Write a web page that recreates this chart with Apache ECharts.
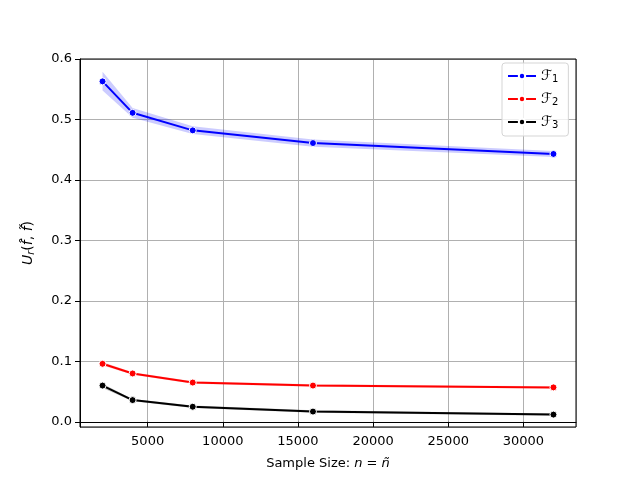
<!DOCTYPE html>
<html>
<head>
    <meta charset="utf-8">
    <title>Uniformity vs sample size</title>
    <script src="https://cdn.jsdelivr.net/npm/echarts@6/dist/echarts.min.js"></script>
</head>
<body style="margin:0">
    <div id="main" style="width:640px;height:480px;"></div>
    <script type="text/javascript">
        // sample sizes
        var sizes = [2000, 4000, 8000, 16000, 32000];

        // mean values per family
        var f1 = [0.563, 0.511, 0.482, 0.461, 0.443];
        var f2 = [0.096, 0.080, 0.065, 0.060, 0.057];
        var f3 = [0.060, 0.036, 0.025, 0.017, 0.012];

        // confidence band (lower / upper)
        var f1Lo = [0.548, 0.503, 0.476, 0.455, 0.438];
        var f1Hi = [0.579, 0.519, 0.489, 0.467, 0.448];
        var f2Lo = [0.093, 0.078, 0.063, 0.058, 0.055];
        var f2Hi = [0.099, 0.082, 0.067, 0.062, 0.059];
        var f3Lo = [0.056, 0.034, 0.023, 0.015, 0.010];
        var f3Hi = [0.063, 0.038, 0.027, 0.019, 0.014];

        var names = ['F1', 'F2', 'F3'];
        var colors = ['#0000ff', '#ff0000', '#000000'];
        var bandColors = ['rgba(0,0,255,0.2)', 'rgba(255,0,0,0.2)', 'rgba(0,0,0,0.2)'];

        var myChart = echarts.init(document.getElementById('main'));

        function zip(xs, ys) {
            return xs.map(function (x, i) { return [x, ys[i]]; });
        }

        // band drawn as one polygon through the axes scales
        function bandSeries(lo, hi, color) {
            return {
                type: 'custom',
                silent: true,
                clip: true,
                z: 1,
                data: sizes.map(function (x, i) { return [x, lo[i], hi[i]]; }),
                encode: { x: 0, y: [1, 2] },
                renderItem: function (params, api) {
                    if (params.dataIndex !== 0) return null;
                    var pts = [];
                    for (var i = 0; i < sizes.length; i++) pts.push(api.coord([sizes[i], hi[i]]));
                    for (var j = sizes.length - 1; j >= 0; j--) pts.push(api.coord([sizes[j], lo[j]]));
                    return {
                        type: 'polygon',
                        shape: { points: pts },
                        style: { fill: color, stroke: null }
                    };
                }
            };
        }

        function lineSeries(name, vals, color) {
            return {
                name: name,
                type: 'line',
                z: 3,
                data: zip(sizes, vals),
                symbol: 'circle',
                symbolSize: 7,
                showSymbol: true,
                color: color,
                lineStyle: { width: 2, color: color },
                itemStyle: { color: color, borderColor: '#ffffff', borderWidth: 1 }
            };
        }

        var font = 'DejaVu Sans';

        var option = {
            animation: false,
            backgroundColor: '#ffffff',
            textStyle: { fontFamily: font },
            grid: { left: 80, right: 64, top: 59, bottom: 53 },
            legend: {
                data: names,
                orient: 'vertical',
                left: 502,
                top: 63,
                itemWidth: 28,
                itemHeight: 8,
                itemGap: 8,
                padding: [6, 10, 6, 5],
                borderColor: '#d5d5d5',
                borderWidth: 1,
                borderRadius: 3,
                backgroundColor: 'rgba(255,255,255,0.8)',
                formatter: function (n) {
                    return '{f|\u2131}{s|' + n.slice(1) + '}';
                },
                textStyle: {
                    fontFamily: font,
                    rich: {
                        f: { fontSize: 14, fontStyle: 'italic', color: '#000', fontFamily: font },
                        s: { fontSize: 10, color: '#000', padding: [6, 0, 0, 0], fontFamily: font }
                    }
                }
            },
            xAxis: {
                type: 'value',
                min: 500,
                max: 33500,
                splitNumber: 7,
                name: '{t|Sample Size: }{i|n}{t| = }{i|n\u0303}',
                nameLocation: 'middle',
                nameGap: 30,
                nameTextStyle: {
                    rich: {
                        t: { fontSize: 13, color: '#000', fontFamily: font },
                        i: { fontSize: 13, fontStyle: 'italic', color: '#000', fontFamily: font }
                    }
                },
                axisLine: { show: true, lineStyle: { color: '#000', width: 1 } },
                axisTick: { show: true, length: 5, lineStyle: { color: '#000' } },
                axisLabel: {
                    color: '#000', fontSize: 13, margin: 8,
                    showMinLabel: false, showMaxLabel: false,
                    formatter: function (v) { return String(Math.round(v)); }
                },
                splitLine: { show: true, lineStyle: { color: '#b0b0b0', width: 1 } }
            },
            yAxis: {
                type: 'value',
                min: -0.0085,
                max: 0.6,
                splitNumber: 6,
                name: '{i|U}{s|r}{t|(}{i|f\u0302}{t|, }{i|f\u0303}{t|)}',
                nameLocation: 'middle',
                nameRotate: 90,
                nameGap: 44,
                nameTextStyle: {
                    rich: {
                        i: { fontSize: 14, fontStyle: 'italic', color: '#000', fontFamily: font },
                        s: { fontSize: 10, fontStyle: 'italic', color: '#000', padding: [6, 0, 0, 0], fontFamily: font },
                        t: { fontSize: 14, color: '#000', fontFamily: font }
                    }
                },
                axisLine: { show: true, lineStyle: { color: '#000', width: 1 } },
                axisTick: { show: true, length: 5, lineStyle: { color: '#000' } },
                axisLabel: {
                    color: '#000', fontSize: 13, margin: 8,
                    showMinLabel: false,
                    formatter: function (v) { return v.toFixed(1); }
                },
                splitLine: { show: true, lineStyle: { color: '#b0b0b0', width: 1 } }
            },
            series: [
                bandSeries(f1Lo, f1Hi, bandColors[0]),
                bandSeries(f2Lo, f2Hi, bandColors[1]),
                bandSeries(f3Lo, f3Hi, bandColors[2]),
                lineSeries(names[0], f1, colors[0]),
                lineSeries(names[1], f2, colors[1]),
                lineSeries(names[2], f3, colors[2])
            ]
        };

        myChart.setOption(option);

        // close the box on top and right like the reference frame
        myChart.setOption({
            graphic: [{
                type: 'rect',
                silent: true,
                z: 100,
                shape: { x: 80, y: 59, width: 496, height: 368 },
                style: { fill: null, stroke: '#000', lineWidth: 1 }
            }]
        });
    </script>
</body>
</html>
